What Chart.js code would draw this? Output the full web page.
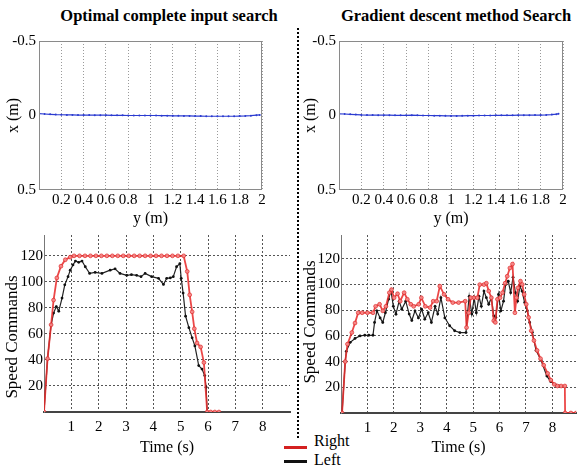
<!DOCTYPE html>
<html><head><meta charset="utf-8">
<script src="https://cdn.jsdelivr.net/npm/chart.js@4.4.0/dist/chart.umd.min.js"></script>
<style>
html,body{margin:0;padding:0;background:#fff;width:581px;height:466px;overflow:hidden;font-family:"Liberation Serif","Times New Roman",serif;color:#000;}
canvas{position:absolute;}
.title{position:absolute;font-weight:bold;font-size:16.5px;line-height:18px;white-space:nowrap;transform:translateX(-50%);}
.leg{position:absolute;font-size:16px;line-height:18px;white-space:nowrap;}
.sw{position:absolute;width:23px;height:3px;}
</style></head><body>
<div class="title" style="left:169px;top:7px">Optimal complete input search</div>
<div class="title" style="left:456px;top:7px">Gradient descent method Search</div>
<div style="position:absolute;left:297px;top:28px;height:410px;border-left:2px dotted #000"></div>
<div class="sw" style="left:284px;top:446px;background:#d42020"></div>
<div class="leg" style="left:314px;top:432px">Right</div>
<div class="sw" style="left:284px;top:460px;background:#111"></div>
<div class="leg" style="left:314px;top:451px">Left</div>
<script>
// ---------- data ----------
const topXTicks = [0.2, 0.4, 0.6, 0.8, 1, 1.2, 1.4, 1.6, 1.8, 2];
const topXLabels = ['0.2', '0.4', '0.6', '0.8', '1', '1.2', '1.4', '1.6', '1.8', '2'];
const topYTicks = [-0.5, 0, 0.5];
const topYLabels = ['-0.5', '0', '0.5'];

const optPathY = [0,0.05,0.10,0.15,0.20,0.25,0.30,0.35,0.40,0.45,0.50,0.55,0.60,0.65,0.70,0.75,0.80,0.85,0.90,0.95,1.00,1.05,1.10,1.15,1.20,1.25,1.30,1.35,1.40,1.45,1.50,1.55,1.60,1.65,1.70,1.75,1.80,1.85,1.90,1.95,1.98];
const optPathX = [-0.012,-0.010,-0.008,-0.006,-0.005,-0.004,-0.004,-0.003,-0.003,-0.003,-0.002,-0.002,-0.002,-0.001,-0.001,-0.001,0,0,0,0,0,0,0.001,0.001,0.002,0.002,0.003,0.003,0.004,0.004,0.005,0.005,0.005,0.005,0.005,0.005,0.004,0.003,0.001,-0.002,-0.004];

const gradPathY = [0,0.05,0.10,0.15,0.20,0.25,0.30,0.35,0.40,0.45,0.50,0.55,0.60,0.65,0.70,0.75,0.80,0.85,0.90,0.95,1.00,1.05,1.10,1.15,1.20,1.25,1.30,1.35,1.40,1.45,1.50,1.55,1.60,1.65,1.70,1.75,1.80,1.85,1.90,1.94,1.96];
const gradPathX = [-0.011,-0.010,-0.008,-0.006,-0.004,-0.003,-0.003,-0.002,-0.002,-0.002,-0.001,-0.001,-0.001,-0.002,-0.001,0,0,0.001,0.001,0.002,0.003,0.003,0.002,0.001,0.001,0,0,0,-0.001,-0.001,-0.001,-0.001,-0.002,-0.002,-0.002,-0.003,-0.003,-0.004,-0.006,-0.009,-0.011];

const timeTicks = [1, 2, 3, 4, 5, 6, 7, 8];
const timeLabels = ['1', '2', '3', '4', '5', '6', '7', '8'];
const speedTicks = [20, 40, 60, 80, 100, 120];
const speedLabels = ['20', '40', '60', '80', '100', '120'];

const optRightT = [0,0.13,0.26,0.35,0.47,0.62,0.78,0.96,1.1,1.3,1.5,1.7,1.9,2.1,2.3,2.5,2.7,2.9,3.1,3.3,3.5,3.7,3.9,4.1,4.3,4.5,4.7,4.9,5.11,5.24,5.33,5.42,5.5,5.6,5.73,5.85,5.97,6.1,6.25,6.4];
const optRightV = [0,41,67,86,103,112,117,119,120,120,120,120,120,120,120,120,120,120,120,120,120,120,120,120,120,120,120,120,120,108,90,77,64,53,50,38,0,0,0,0];
const optLeftT = [0,0.13,0.26,0.35,0.45,0.54,0.66,0.76,0.88,0.96,1.06,1.15,1.27,1.39,1.51,1.67,1.87,2.12,2.42,2.6,2.78,3.03,3.2,3.39,3.55,3.7,3.94,4.19,4.37,4.49,4.62,4.73,4.85,4.97,5.02,5.09,5.18,5.3,5.42,5.52,5.66,5.78,5.88,5.93,5.97];
const optLeftV = [0,41,67,76,81,77.5,87.5,97.7,104,109,113,116,115,116,111.6,106.5,107.3,106.5,109,110,106.5,105,105.5,105,104,106.5,104,102.7,98,102.7,103,104,111.6,114,102.7,91.4,73.6,64.8,57,50.8,35.7,33,28,19,0];

const gradRightT = [0.04,0.16,0.245,0.41,0.53,0.65,0.8,1.0,1.21,1.31,1.46,1.58,1.7,1.83,1.91,2.01,2.14,2.24,2.39,2.51,2.64,2.75,2.94,3.04,3.19,3.37,3.49,3.62,3.74,3.9,4.05,4.23,4.45,4.7,4.75,4.83,4.91,5.03,5.16,5.25,5.41,5.5,5.59,5.69,5.78,5.84,5.92,6.02,6.11,6.21,6.29,6.39,6.49,6.58,6.64,6.7,6.79,6.86,6.93,7.01,7.1,7.2,7.3,7.42,7.55,7.67,7.82,7.94,8.07,8.19,8.33,8.47,8.48,8.7,8.9];
const gradRightV = [0,40,53.6,62.6,70,78,78,78,78,83,84.6,79.5,83,93.6,96,89.7,92.8,87,93.6,88.5,84.6,83,84.6,89.7,83,82,87,87,98.7,92.3,88.5,85.9,85.9,87,66.5,78,89.7,89.7,89.7,99.9,99.9,101,94.9,89.7,71.8,70.5,88.5,89.7,93.6,101,106.4,112.8,115.9,78,89.7,97.4,102.6,100,92.3,84.6,74.4,64,56.4,48.7,42.3,37.2,30.8,25.6,22.3,21,21,21,0,0,0];
const gradLeftT = [0.04,0.16,0.2,0.35,0.53,0.72,0.9,1.05,1.21,1.27,1.36,1.48,1.58,1.68,1.8,1.89,1.98,2.08,2.2,2.3,2.45,2.58,2.68,2.8,2.93,3.05,3.17,3.3,3.42,3.56,3.66,3.78,3.93,4.11,4.3,4.5,4.73,4.79,4.85,4.95,5.04,5.12,5.22,5.31,5.41,5.5,5.59,5.69,5.78,5.86,5.96,6.05,6.15,6.23,6.33,6.42,6.51,6.6,6.68,6.77,6.85,6.95,7.05,7.14,7.24,7.38,7.57,7.79,7.94,8.12,8.25];
const gradLeftV = [0,40,48,55,58,60,60.5,60.5,60.5,70.5,79.5,74,70.5,78,88.5,95.4,83,76.9,87,80.8,87,77,72,79.5,74,80.8,73,78,70.5,83,77,89.7,74,67.9,64,62.6,62.6,78,90.8,77,89.7,78,90.8,83,94.9,89.7,84.6,89.7,75.6,74.4,92.3,79.5,87,100,102.6,93.6,105.6,93.6,87,98.7,94.9,85.9,79.5,70.5,62.8,48.7,41,28.7,24.4,21.8,21];

// ---------- drawing ----------
Chart.defaults.font.family = "'Liberation Serif','Times New Roman',serif";
Chart.defaults.color = '#000';
Chart.defaults.animation = false;

const framePlugin = {
  id: 'frame',
  afterDraw(chart, args, o) {
    const ctx = chart.ctx, a = chart.chartArea;
    if (o.box) {
      ctx.save();
      ctx.strokeStyle = '#8a8a8a';
      ctx.lineWidth = 1;
      ctx.strokeRect(Math.round(a.left) + 0.5, Math.round(a.top) + 0.5, Math.round(a.right - a.left) - 1, Math.round(a.bottom - a.top) - 1);
      ctx.restore();
    }
    if (o.sideTitle) {
      ctx.save();
      ctx.translate(o.sideX, o.sideY);
      ctx.rotate(-Math.PI / 2);
      ctx.font = "17px 'Liberation Serif','Times New Roman',serif";
      ctx.fillStyle = '#000';
      ctx.textAlign = 'center';
      ctx.textBaseline = 'middle';
      ctx.fillText(o.sideTitle, 0, 0);
      ctx.restore();
    }
  }
};

function makeCanvas(box) {
  const c = document.createElement('canvas');
  c.width = box.w; c.height = box.h;
  c.style.left = box.left + 'px'; c.style.top = box.top + 'px';
  c.style.width = box.w + 'px'; c.style.height = box.h + 'px';
  document.body.appendChild(c);
  return c;
}

function pts(xs, ys) { return xs.map((v, i) => ({x: v, y: ys[i]})); }

function topChart(box, plot, px, py, yTitlePad) {
  const c = makeCanvas(box);
  new Chart(c, {
    type: 'line',
    data: {datasets: [{data: pts(py, px), borderColor: '#2b3bd0', borderWidth: 1.2, pointRadius: 1, pointBackgroundColor: '#2b3bd0', pointBorderWidth: 0, tension: 0}]},
    options: {
      responsive: false, animation: false, devicePixelRatio: 1,
      layout: {padding: {top: plot.t - box.top, right: box.left + box.w - plot.r, left: 0, bottom: 0}},
      plugins: {legend: {display: false}, tooltip: {enabled: false}, frame: {box: true}},
      scales: {
        x: {type: 'linear', min: 0, max: 2,
          afterFit: s => { s.height = box.top + box.h - plot.b; },
          afterBuildTicks: s => { s.ticks = topXTicks.map(v => ({value: v})); },
          ticks: {autoSkip: false, maxRotation: 0, padding: 1, font: {size: 15}, callback: (v, i) => topXLabels[i]},
          grid: {color: '#9a9a9a', lineWidth: 1, drawTicks: false},
          border: {display: false, dash: [1, 2]},
          title: {display: true, text: 'y (m)', font: {size: 16}, padding: {top: 0, bottom: 2}}},
        y: {type: 'linear', min: -0.5, max: 0.5, reverse: true,
          afterFit: s => { s.width = plot.l - box.left; },
          afterBuildTicks: s => { s.ticks = topYTicks.map(v => ({value: v})); },
          ticks: {autoSkip: false, padding: 3, font: {size: 15}, callback: (v, i) => topYLabels[i]},
          grid: {display: false, drawTicks: false},
          border: {display: false},
          title: {display: true, text: 'x (m)', font: {size: 16}, padding: {top: yTitlePad, bottom: 0}}}
      }
    },
    plugins: [framePlugin]
  });
}

function speedChart(box, plot, xmax, ymax, rT, rV, lT, lV, side) {
  const c = makeCanvas(box);
  new Chart(c, {
    type: 'line',
    data: {datasets: [
      {label: 'Right', data: pts(rT, rV), borderColor: 'rgba(232,45,45,0.88)', borderWidth: 1.8, pointRadius: 1.9, pointBackgroundColor: 'rgba(245,140,140,0.9)', pointBorderColor: 'rgba(225,40,40,0.9)', pointBorderWidth: 0.8, tension: 0},
      {label: 'Left', data: pts(lT, lV), borderColor: '#222', borderWidth: 1.2, pointRadius: 1.4, pointBackgroundColor: '#111', pointBorderWidth: 0, tension: 0}
    ]},
    options: {
      responsive: false, animation: false, devicePixelRatio: 1,
      layout: {padding: {top: plot.t - box.top, right: box.left + box.w - plot.r, left: 0, bottom: 0}},
      plugins: {legend: {display: false}, tooltip: {enabled: false}, frame: {box: false, sideTitle: 'Speed Commands', sideX: side.x - box.left, sideY: side.y - box.top}},
      scales: {
        x: {type: 'linear', min: 0, max: xmax,
          afterFit: s => { s.height = box.top + box.h - plot.b; },
          afterBuildTicks: s => { s.ticks = timeTicks.map(v => ({value: v})); },
          ticks: {autoSkip: false, maxRotation: 0, padding: 6, font: {size: 15}, callback: (v, i) => timeLabels[i]},
          grid: {color: '#555', lineWidth: 1, drawTicks: false},
          border: {display: true, color: '#444', width: 2, dash: [2, 2]},
          title: {display: true, text: 'Time (s)', font: {size: 16}, padding: {top: 0, bottom: 9}}},
        y: {type: 'linear', min: 0, max: ymax,
          afterFit: s => { s.width = plot.l - box.left; },
          afterBuildTicks: s => { s.ticks = speedTicks.map(v => ({value: v})); },
          ticks: {autoSkip: false, padding: 1, font: {size: 15}, callback: (v, i) => speedLabels[i]},
          grid: {color: '#555', lineWidth: 1, drawTicks: false},
          border: {display: true, color: '#777', width: 1, dash: [2, 2]},
          title: {display: false}}
      }
    },
    plugins: [framePlugin]
  });
}

topChart({left: 0, top: 28, w: 275, h: 202}, {l: 39, r: 262, t: 41, b: 190}, optPathX, optPathY, 4);
topChart({left: 300, top: 28, w: 275, h: 202}, {l: 339, r: 563, t: 41, b: 190}, gradPathX, gradPathY, 1);
speedChart({left: 0, top: 225, w: 295, h: 241}, {l: 44, r: 290, t: 233, b: 412}, 9.0, 136, optRightT, optRightV, optLeftT, optLeftV, {x: 13, y: 337});
speedChart({left: 300, top: 225, w: 281, h: 241}, {l: 341, r: 581, t: 233, b: 413}, 8.9, 138.5, gradRightT, gradRightV, gradLeftT, gradLeftV, {x: 311, y: 322});
</script>
</body></html>
